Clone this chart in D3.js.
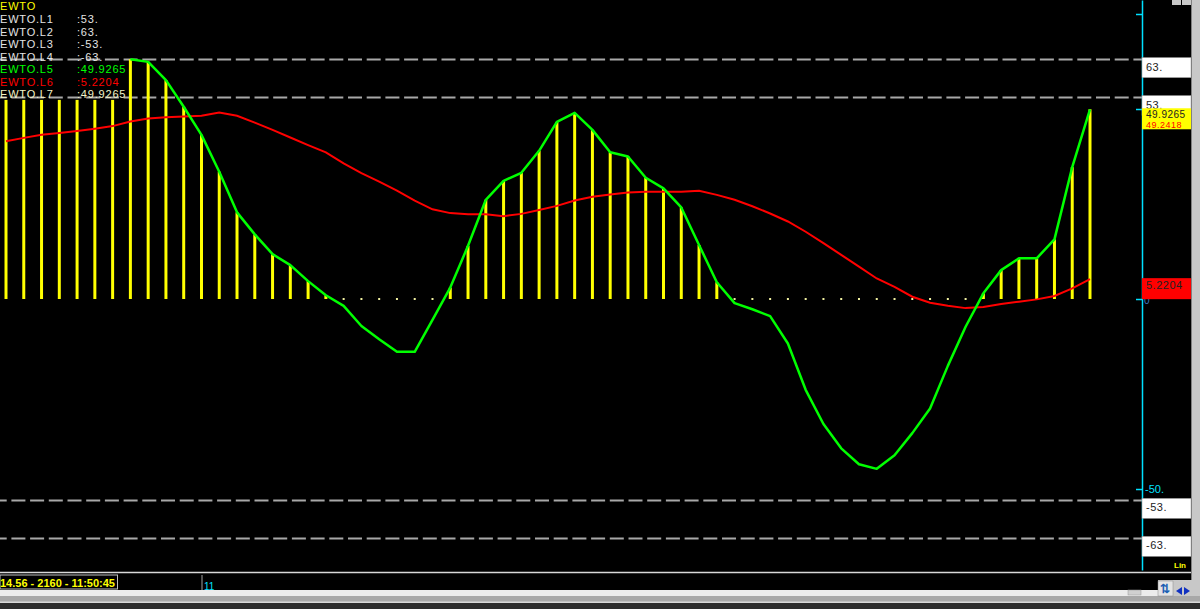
<!DOCTYPE html>
<html lang="en">
<head>
<meta charset="utf-8">
<title>EWTO</title>
<script src="https://cdn.jsdelivr.net/npm/d3@7"></script>
<style>
body { margin: 0; background: #000; }
text { font-family: "Liberation Sans", Arial, sans-serif; }
.leg { font-size: 11px; letter-spacing: 0.8px; }
.box-label { font-size: 11px; fill: #222; letter-spacing: 0.5px; }
</style>
</head>
<body>
<script>
// chart values
var levels = [63, 53, -53, -63];
var levelLabels = ["63.", "53.", "-53.", "-63."];

var legendNames = ["EWTO.L1", "EWTO.L2", "EWTO.L3", "EWTO.L4", "EWTO.L5", "EWTO.L6", "EWTO.L7"];
var legendValues = [":53.", ":63.", ":-53.", ":-63.", ":49.9265", ":5.2204", ":49.9265"];
var legendColors = ["#e4e4e4", "#e4e4e4", "#e4e4e4", "#e4e4e4", "#00ff00", "#ff0000", "#f4f4c8"];

// L5: green oscillator (null = not drawn)
var osc = [null, null, null, null, null, null, null,
  63.1, 62.4, 57.6, 50.6, 43.2, 33.5, 22.8, 17.0, 11.8, 8.9, 4.7, 1.0,
  -1.8, -7.1, -10.6, -13.9, -13.9, -5.5, 3.0, 14.0, 26.1, 31.1, 33.2, 39.0,
  46.6, 49.0, 44.5, 38.6, 37.5, 31.9, 29.1, 24.1, 14.2, 4.4, -1.1, -2.7,
  -4.5, -11.7, -23.9, -32.9, -39.3, -43.5, -44.7, -41.1, -35.3, -28.8, -17.6,
  -7.3, 1.5, 7.6, 10.7, 10.7, 15.7, 34.7, 49.9265];

// L7: yellow histogram
var hist = [52.4, 52.4, 52.4, 52.4, 52.4, 52.4, 52.4,
  63.1, 62.4, 57.6, 50.6, 43.2, 33.5, 22.8, 17.0, 11.8, 8.9, 4.7, 1.0,
  -1.8, -7.1, -10.6, -13.9, -13.9, -5.5, 3.0, 14.0, 26.1, 31.1, 33.2, 39.0,
  46.6, 49.0, 44.5, 38.6, 37.5, 31.9, 29.1, 24.1, 14.2, 4.4, -1.1, -2.7,
  -4.5, -11.7, -23.9, -32.9, -39.3, -43.5, -44.7, -41.1, -35.3, -28.8, -17.6,
  -7.3, 1.5, 7.6, 10.7, 10.7, 15.7, 34.7, 49.9265];

// L6: red signal line
var sig = [41.5, 42.4, 43.2, 43.7, 44.2, 44.8, 45.5, 46.7, 47.5, 47.8, 48.0,
  48.2, 49.1, 48.2, 46.4, 44.5, 42.5, 40.5, 38.6, 35.7, 33.1, 30.9, 28.5,
  25.9, 23.6, 22.6, 22.3, 22.3, 21.8, 22.4, 23.4, 24.5, 25.9, 26.9, 27.5,
  28.0, 28.2, 28.2, 28.2, 28.5, 27.4, 26.1, 24.4, 22.5, 20.4, 17.7, 14.7,
  11.6, 8.5, 5.4, 3.2, 0.6, -1.0, -1.8, -2.4, -2.1, -1.3, -0.7, -0.1, 0.8,
  2.8, 5.2204];

var axisTicks = [75, 50, 0, -50];

var W = 1200, H = 609;
var plotRight = 1142, plotBottom = 570;

var svg = d3.select("body").append("svg")
  .attr("width", W).attr("height", H);

svg.append("rect").attr("width", W).attr("height", H).attr("fill", "#000");

var x = d3.scaleLinear().domain([0, hist.length - 1]).range([6, 1090]);
var y = d3.scaleLinear().domain([-50, 50]).range([489, 109]);

// dashed level lines
svg.selectAll(".lvl").data(levels).enter().append("line")
  .attr("x1", 0).attr("x2", plotRight)
  .attr("y1", function(d){ return y(d); })
  .attr("y2", function(d){ return y(d); })
  .attr("stroke", "#a8a8a8").attr("stroke-width", 2)
  .attr("stroke-dasharray", "14,4.7").attr("stroke-dashoffset", 7.3);

// histogram bars (positive) and zero dots (negative)
var idx = d3.range(hist.length);
svg.selectAll(".bar").data(idx.filter(function(i){ return hist[i] > 0; }))
  .enter().append("line")
  .attr("x1", function(i){ return x(i); }).attr("x2", function(i){ return x(i); })
  .attr("y1", y(0)).attr("y2", function(i){ return y(hist[i]); })
  .attr("stroke", "#ffff00").attr("stroke-width", 3);

svg.selectAll(".dot").data(idx.filter(function(i){ return hist[i] <= 0; }))
  .enter().append("rect")
  .attr("x", function(i){ return x(i) - 1; }).attr("y", y(0) - 1)
  .attr("width", 2).attr("height", 2).attr("fill", "#f0f0a0");

// red signal line
var line = d3.line()
  .defined(function(d){ return d != null; })
  .x(function(d, i){ return x(i); })
  .y(function(d){ return y(d); });

svg.append("path").datum(sig).attr("d", line)
  .attr("fill", "none").attr("stroke", "#ff0000").attr("stroke-width", 2);

// green oscillator line
svg.append("path").datum(osc).attr("d", line)
  .attr("fill", "none").attr("stroke", "#00ff00").attr("stroke-width", 2.5)
  .attr("stroke-linejoin", "round");

// legend
svg.append("text").attr("class", "leg").attr("x", 0).attr("y", 10)
  .attr("fill", "#ffff00").text("EWTO");
legendNames.forEach(function(n, i){
  svg.append("text").attr("class", "leg").attr("x", 0).attr("y", 23 + i * 12.5)
    .attr("fill", legendColors[i]).text(n);
  svg.append("text").attr("class", "leg").attr("x", 77).attr("y", 23 + i * 12.5)
    .attr("fill", legendColors[i]).text(legendValues[i]);
});

// right axis
var yAx = d3.scaleLinear().domain([y.invert(plotBottom), y.invert(0)]).range([plotBottom, 0]);
var ax = svg.append("g").attr("transform", "translate(" + plotRight + ",0)")
  .call(d3.axisLeft(yAx).tickValues(axisTicks).tickSize(6).tickSizeOuter(0).tickFormat(""));
ax.selectAll("path, line").attr("stroke", "#00e0ff").attr("stroke-width", 1.5);

svg.append("text").attr("x", 1145).attr("y", y(-50) + 4)
  .attr("fill", "#00e0ff").style("font-size", "11px").text("-50.");
svg.append("text").attr("x", 1144).attr("y", y(0) + 5)
  .attr("fill", "#3a78c0").style("font-size", "10px").text("0");

// level boxes
levels.forEach(function(v, i){
  var yy = y(v) - 2;
  svg.append("rect").attr("x", 1142).attr("y", yy).attr("width", 49).attr("height", 20)
    .attr("fill", "#ffffff").attr("stroke", "#999").attr("stroke-width", 0.5);
  svg.append("text").attr("class", "box-label").attr("x", 1146).attr("y", yy + 13)
    .text(levelLabels[i]);
});

// current value boxes
var yv = y(osc[osc.length - 1]);
svg.append("rect").attr("x", 1142).attr("y", yv - 1).attr("width", 49).attr("height", 21)
  .attr("fill", "#ffff00");
svg.append("text").attr("class", "box-label").attr("x", 1146).attr("y", yv + 18.5)
  .style("fill", "#ff0000").style("font-size", "9px").text("49.2418");
svg.append("text").attr("class", "box-label").attr("x", 1146).attr("y", yv + 9)
  .style("font-size", "10px").text("49.9265");

var ys = y(sig[sig.length - 1]);
svg.append("rect").attr("x", 1142).attr("y", ys - 1).attr("width", 49).attr("height", 21)
  .attr("fill", "#ff0000");
svg.append("text").attr("class", "box-label").attr("x", 1146).attr("y", ys + 10)
  .text("5.2204");

svg.append("text").attr("x", 1174).attr("y", 568).attr("fill", "#ffff00")
  .style("font-size", "8px").style("font-weight", "bold").text("Lin");

// window chrome: right strip
svg.append("rect").attr("x", 1191).attr("y", 0).attr("width", 9).attr("height", 580).attr("fill", "#c8c8c8");
svg.append("line").attr("x1", 1191.5).attr("x2", 1191.5).attr("y1", 0).attr("y2", 580).attr("stroke", "#808080");
svg.append("rect").attr("x", 1172).attr("y", 0).attr("width", 9).attr("height", 5).attr("fill", "#c8c8c8");
svg.append("rect").attr("x", 1182).attr("y", 0).attr("width", 9).attr("height", 5).attr("fill", "#c8c8c8");

// bottom chrome
svg.append("line").attr("x1", 0).attr("x2", 1191).attr("y1", 572.5).attr("y2", 572.5)
  .attr("stroke", "#d8d8d8").attr("stroke-width", 1.5);
svg.append("rect").attr("x", 0).attr("y", 575).attr("width", 117.5).attr("height", 14)
  .attr("fill", "#000").attr("stroke", "#c0c0c0").attr("stroke-width", 1);
svg.append("text").attr("x", 0).attr("y", 586.5).attr("fill", "#ffff00")
  .style("font-size", "11px").style("font-weight", "bold").text("14.56 - 2160 - 11:50:45");
svg.append("line").attr("x1", 202).attr("x2", 202).attr("y1", 575).attr("y2", 590)
  .attr("stroke", "#a0a0a0");
svg.append("text").attr("x", 204).attr("y", 590).attr("fill", "#00e0ff")
  .style("font-size", "10px").text("11");

svg.append("rect").attr("x", 0).attr("y", 590).attr("width", 1158).attr("height", 6).attr("fill", "#ececec");
svg.append("rect").attr("x", 1128).attr("y", 590).attr("width", 13).attr("height", 5).attr("fill", "#d0d0d0").attr("stroke", "#999").attr("stroke-width", 0.5);
svg.append("rect").attr("x", 0).attr("y", 596).attr("width", W).attr("height", 6).attr("fill", "#a8a8a8");
svg.append("rect").attr("x", 0).attr("y", 601.5).attr("width", W).attr("height", 1.5).attr("fill", "#d8d8d8");
svg.append("rect").attr("x", 0).attr("y", 603).attr("width", W).attr("height", 6).attr("fill", "#2c2c2c");

svg.append("rect").attr("x", 1158).attr("y", 580).attr("width", 42).attr("height", 16).attr("fill", "#c8c8c8");
svg.append("rect").attr("x", 1158).attr("y", 581).attr("width", 15).attr("height", 15).attr("fill", "#e4e4e4").attr("stroke", "#888").attr("stroke-width", 0.5);
svg.append("text").attr("x", 1160).attr("y", 593).attr("fill", "#1a5fb4")
  .style("font-size", "12px").style("font-weight", "bold").text("\u21c5");
svg.append("path").attr("d", "M1182,587 L1176,591 L1182,595 Z").attr("fill", "#1030c0");
svg.append("path").attr("d", "M1184,587 L1190,591 L1184,595 Z").attr("fill", "#1030c0");
</script>
</body>
</html>
